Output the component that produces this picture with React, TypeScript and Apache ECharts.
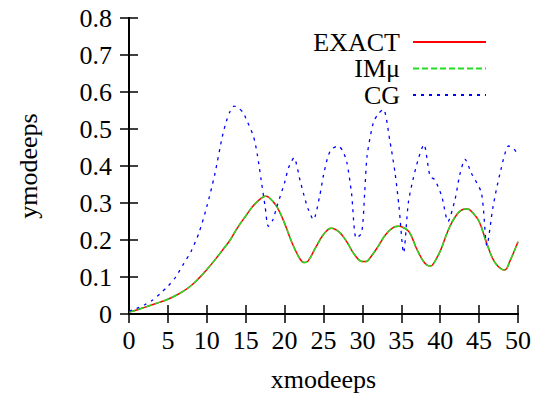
import React, { useEffect, useRef } from "react";
import * as echarts from "echarts";

const exactX = [0, 1, 2, 3, 4, 5, 6, 7, 8, 9, 10, 11, 12, 13, 14, 15, 16, 17, 17.5, 18, 19, 20, 21, 22, 22.5, 23, 24, 25, 26, 27, 28, 29, 30, 30.5, 31, 32, 33, 34, 34.7, 35, 36, 37, 38, 38.7, 39, 40, 41, 42, 43, 43.5, 44, 45, 46, 47, 48, 48.3, 49, 50];
const exactY = [0.005, 0.011, 0.018, 0.025, 0.032, 0.04, 0.05, 0.062, 0.077, 0.097, 0.12, 0.145, 0.172, 0.2, 0.235, 0.265, 0.293, 0.313, 0.318, 0.315, 0.29, 0.245, 0.19, 0.148, 0.139, 0.143, 0.18, 0.215, 0.232, 0.222, 0.195, 0.16, 0.142, 0.142, 0.152, 0.182, 0.215, 0.234, 0.237, 0.236, 0.222, 0.175, 0.138, 0.13, 0.132, 0.17, 0.225, 0.265, 0.283, 0.284, 0.278, 0.25, 0.19, 0.14, 0.12, 0.119, 0.145, 0.195];
const imMuY = exactY.slice();

const cgX = [0, 1, 2, 3, 4, 5, 6, 7, 8, 9, 10, 11, 12, 12.5, 13, 13.5, 14, 14.7, 15, 16, 16.5, 17, 17.5, 17.9, 18.5, 19, 20, 20.5, 21.2, 22, 22.5, 23, 23.7, 24.5, 25, 25.5, 26, 26.9, 27.5, 28, 28.6, 29.2, 29.9, 30.3, 30.6, 31.4, 32, 32.7, 33.5, 34.2, 34.7, 35.3, 35.9, 36.5, 37.2, 37.9, 38.7, 39.3, 40.2, 41, 41.9, 42.5, 43.2, 44, 45.3, 46, 46.8, 47.7, 48.8, 49.4, 50];
const cgY = [0.008, 0.015, 0.025, 0.037, 0.055, 0.075, 0.1, 0.135, 0.17, 0.22, 0.29, 0.375, 0.48, 0.52, 0.548, 0.562, 0.558, 0.544, 0.53, 0.48, 0.43, 0.36, 0.29, 0.237, 0.255, 0.29, 0.355, 0.395, 0.422, 0.36, 0.32, 0.285, 0.255, 0.318, 0.375, 0.42, 0.445, 0.454, 0.44, 0.41, 0.327, 0.205, 0.219, 0.33, 0.427, 0.517, 0.54, 0.553, 0.472, 0.381, 0.291, 0.165, 0.3, 0.363, 0.42, 0.458, 0.372, 0.363, 0.318, 0.25, 0.309, 0.375, 0.418, 0.381, 0.327, 0.185, 0.291, 0.381, 0.454, 0.448, 0.43];

const seriesNames = ["EXACT", "IMμ", "CG"];
const xTicks = { min: 0, max: 50, interval: 5 };
const yTicks = { min: 0, max: 0.8, interval: 0.1 };

const FONT = "'Liberation Serif', 'Times New Roman', 'DejaVu Serif', serif";
const FS = 26;

const pairs = (xs: number[], ys: number[]) => xs.map((x, i) => [x, ys[i]]);

export default function App() {
  const ref = useRef<HTMLDivElement>(null);
  useEffect(() => {
    document.body.style.margin = "0";
    if (!ref.current) return;
    const chart = echarts.init(ref.current, undefined, { renderer: "svg" });
    const axisLine = { show: true, lineStyle: { color: "#000", width: 2 } };
    const tick = { show: true, inside: true, length: 9, lineStyle: { color: "#000", width: 1.5 } };
    chart.setOption({
      animation: false,
      textStyle: { fontFamily: FONT },
      grid: { left: 129, right: 18, top: 18, bottom: 85 },
      legend: {
        orient: "vertical",
        right: 44,
        top: 24,
        align: "right",
        itemWidth: 73,
        itemHeight: 14,
        itemGap: 0.5,
        itemStyle: { opacity: 0, borderWidth: 0 },
        textStyle: { fontFamily: FONT, fontSize: FS, color: "#000", lineHeight: 25, padding: [0, 8, 0, 0] },
        data: seriesNames,
      },
      xAxis: [
        {
          type: "value",
          position: "bottom",
          ...xTicks,
          name: "xmodeeps",
          nameLocation: "middle",
          nameGap: 52,
          nameTextStyle: { fontFamily: FONT, fontSize: FS, color: "#000" },
          axisLine,
          axisTick: tick,
          axisLabel: { fontFamily: FONT, fontSize: FS, color: "#000", margin: 13 },
          splitLine: { show: false },
        },
        {
          type: "value",
          position: "top",
          ...xTicks,
          axisLine,
          axisTick: tick,
          axisLabel: { show: false },
          splitLine: { show: false },
        },
      ],
      yAxis: [
        {
          type: "value",
          position: "left",
          ...yTicks,
          name: "ymodeeps",
          nameLocation: "middle",
          nameGap: 88,
          nameTextStyle: { fontFamily: FONT, fontSize: FS, color: "#000" },
          axisLine,
          axisTick: tick,
          axisLabel: { fontFamily: FONT, fontSize: FS, color: "#000", margin: 17 },
          splitLine: { show: false },
        },
        {
          type: "value",
          position: "right",
          ...yTicks,
          axisLine,
          axisTick: tick,
          axisLabel: { show: false },
          splitLine: { show: false },
        },
      ],
      series: [
        {
          name: seriesNames[0],
          type: "line",
          data: pairs(exactX, exactY),
          smooth: 0.4,
          showSymbol: false,
          symbol: "none",
          lineStyle: { color: "#ff0000", width: 1.5, type: "solid" },
          itemStyle: { color: "#ff0000" },
          z: 2,
        },
        {
          name: seriesNames[1],
          type: "line",
          data: pairs(exactX, imMuY),
          smooth: 0.4,
          showSymbol: false,
          symbol: "none",
          lineStyle: { color: "#22dd22", width: 1.5, type: [6, 3] },
          itemStyle: { color: "#22dd22" },
          z: 3,
        },
        {
          name: seriesNames[2],
          type: "line",
          data: pairs(cgX, cgY),
          smooth: 0.25,
          showSymbol: false,
          symbol: "none",
          lineStyle: { color: "#0000ff", width: 1.3, type: [3, 5] },
          itemStyle: { color: "#0000ff" },
          z: 4,
        },
      ],
    });
    return () => chart.dispose();
  }, []);
  return <div ref={ref} style={{ width: 536, height: 399 }} />;
}
